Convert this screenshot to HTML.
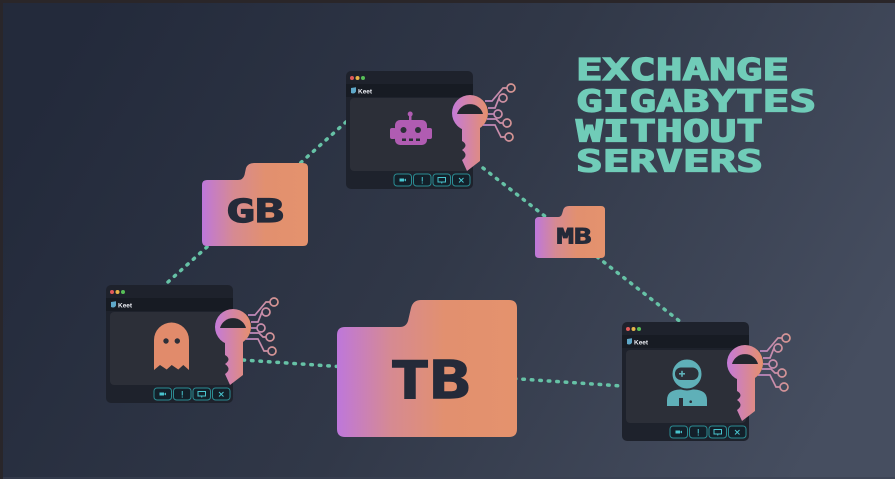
<!DOCTYPE html>
<html><head><meta charset="utf-8"><style>
html,body{margin:0;padding:0;background:#2a2629;}
body{width:895px;height:479px;overflow:hidden;}
svg{display:block;}
text{font-family:"DejaVu Sans Mono","Liberation Mono",monospace;font-weight:bold;}
.lbl{font-family:"Liberation Sans","DejaVu Sans",sans-serif;font-weight:bold;}
</style></head><body>
<svg width="895" height="479" viewBox="0 0 895 479" xmlns="http://www.w3.org/2000/svg">
<defs>
<linearGradient id="bg" x1="0" y1="0.35" x2="1" y2="0.65">
<stop offset="0" stop-color="#232a3b"/><stop offset="0.5" stop-color="#313848"/><stop offset="1" stop-color="#464e60"/>
</linearGradient>
<linearGradient id="fold" x1="0" y1="0" x2="1" y2="0">
<stop offset="0" stop-color="#be77db"/><stop offset="0.3" stop-color="#d68a92"/><stop offset="0.6" stop-color="#e2906f"/><stop offset="1" stop-color="#e4926d"/>
</linearGradient>
<linearGradient id="key" gradientUnits="userSpaceOnUse" x1="-18" y1="0" x2="18" y2="0">
<stop offset="0" stop-color="#c47ad9"/><stop offset="1" stop-color="#e6906c"/>
</linearGradient>
<linearGradient id="wire" gradientUnits="userSpaceOnUse" x1="12" y1="0" x2="45" y2="0">
<stop offset="0" stop-color="#b884c9"/><stop offset="1" stop-color="#d9968e"/>
</linearGradient>
</defs>
<rect x="0" y="0" width="895" height="479" fill="url(#bg)"/>
<rect x="0" y="0" width="895" height="3" fill="#2a2629"/>
<rect x="0" y="0" width="3" height="479" fill="#29262a"/>
<rect x="3" y="477" width="892" height="2" fill="#3a4152" opacity="0.6"/>

<!-- dotted connectors -->
<g stroke="#66c2a6" stroke-width="3.5" stroke-linecap="round" stroke-dasharray="1.5 7" fill="none">
<line x1="168" y1="282" x2="346" y2="122"/>
<line x1="483" y1="168" x2="682" y2="323"/>
<line x1="243" y1="360" x2="622" y2="386"/>
</g>

<!-- title -->
<g fill="#70ccb8" stroke="#70ccb8" stroke-width="1.3" font-size="30">
<text x="576" y="80" textLength="213" lengthAdjust="spacingAndGlyphs">EXCHANGE</text>
<text x="576" y="111.5" textLength="240" lengthAdjust="spacingAndGlyphs">GIGABYTES</text>
<text x="576" y="141.5" textLength="187" lengthAdjust="spacingAndGlyphs">WITHOUT</text>
<text x="576" y="171.5" textLength="187" lengthAdjust="spacingAndGlyphs">SERVERS</text>
</g>

<!-- folders -->
<path d="M207,180 L238,180 Q243,180 244.5,175 L246,168 Q248,163 254,163 L303,163 Q308,163 308,168 L308,241 Q308,246 303,246 L207,246 Q202,246 202,241 L202,185 Q202,180 207,180 Z" fill="url(#fold)"/>
<text x="255" y="222" font-size="32" fill="#252a39" stroke="#252a39" stroke-width="1.2" text-anchor="middle" textLength="58" lengthAdjust="spacingAndGlyphs">GB</text>

<path d="M345,327 L400,327 Q406,327 408,321 L411,308 Q413,300 421,300 L509,300 Q517,300 517,308 L517,429 Q517,437 509,437 L345,437 Q337,437 337,429 L337,335 Q337,327 345,327 Z" fill="url(#fold)"/>
<text x="430" y="398" font-size="52" fill="#252a39" stroke="#252a39" stroke-width="1.5" text-anchor="middle" textLength="80" lengthAdjust="spacingAndGlyphs">TB</text>

<path d="M539,217 L558,217 Q561,217 562,214 L563.5,209 Q565,206 569,206 L601,206 Q605,206 605,210 L605,254 Q605,258 601,258 L539,258 Q535,258 535,254 L535,221 Q535,217 539,217 Z" fill="url(#fold)"/>
<text x="574" y="243.5" font-size="21" fill="#252a39" stroke="#252a39" stroke-width="0.9" text-anchor="middle" textLength="35" lengthAdjust="spacingAndGlyphs">MB</text>

<!-- TOP WINDOW -->
<g transform="translate(346,71)">
<rect x="0" y="0" width="127" height="118" rx="5" fill="#1e222c"/>
<circle cx="6" cy="7" r="2" fill="#e25a5a"/><circle cx="11.5" cy="7" r="2" fill="#e6b449"/><circle cx="17" cy="7" r="2" fill="#57bf58"/>
<rect x="0" y="13" width="127" height="13" fill="#171b23"/>
<path d="M5,17 L10,16.3 L10,20.5 Q8.5,23.5 5,22 Z" fill="#5fa8c9"/>
<text class="lbl" x="12" y="22.5" font-size="6.5" fill="#e8eaf0">Keet</text>
<rect x="4" y="27" width="120" height="73" rx="4" fill="#2c2f38"/>
<g fill="#13202a" stroke="#2b8c93" stroke-width="1">
<rect x="48" y="103" width="17.5" height="12" rx="3"/><rect x="67.5" y="103" width="17.5" height="12" rx="3"/><rect x="87" y="103" width="17.5" height="12" rx="3"/><rect x="106.5" y="103" width="17.5" height="12" rx="3"/>
</g>
<g fill="#49c5cf" stroke="#49c5cf" stroke-width="1">
<rect x="53.5" y="107.5" width="4.5" height="3" stroke="none"/><path d="M58,109 L60,107.5 L60,110.5 Z" stroke="none"/>
<line x1="76.25" y1="106" x2="76.25" y2="110.5"/><circle cx="76.25" cy="112" r="0.6" stroke="none"/>
<rect x="92" y="106.5" width="7.5" height="4.5" fill="none"/><line x1="95.75" y1="111" x2="95.75" y2="112.5"/>
<line x1="113" y1="107" x2="117.5" y2="111.5"/><line x1="117.5" y1="107" x2="113" y2="111.5"/>
</g>
</g>
<!-- robot -->
<g fill="#b05cb2">
<rect x="409" y="114" width="2.5" height="7"/><circle cx="410.2" cy="114" r="2.5"/>
<rect x="395" y="120" width="32" height="25" rx="5"/>
<rect x="390" y="128" width="6" height="11" rx="2"/><rect x="426" y="128" width="6" height="11" rx="2"/>
</g>
<g fill="#2c2f38">
<circle cx="403.5" cy="130" r="3"/><circle cx="418" cy="130" r="3"/>
<rect x="402" y="138.5" width="4" height="2.5"/><rect x="409" y="138.5" width="4" height="2.5"/><rect x="416" y="138.5" width="4" height="2.5"/>
</g>

<!-- LEFT WINDOW -->
<g transform="translate(106,285)">
<rect x="0" y="0" width="127" height="118" rx="5" fill="#1e222c"/>
<circle cx="6" cy="7" r="2" fill="#e25a5a"/><circle cx="11.5" cy="7" r="2" fill="#e6b449"/><circle cx="17" cy="7" r="2" fill="#57bf58"/>
<rect x="0" y="13" width="127" height="13" fill="#171b23"/>
<path d="M5,17 L10,16.3 L10,20.5 Q8.5,23.5 5,22 Z" fill="#5fa8c9"/>
<text class="lbl" x="12" y="22.5" font-size="6.5" fill="#e8eaf0">Keet</text>
<rect x="4" y="27" width="120" height="73" rx="4" fill="#2c2f38"/>
<g fill="#13202a" stroke="#2b8c93" stroke-width="1">
<rect x="48" y="103" width="17.5" height="12" rx="3"/><rect x="67.5" y="103" width="17.5" height="12" rx="3"/><rect x="87" y="103" width="17.5" height="12" rx="3"/><rect x="106.5" y="103" width="17.5" height="12" rx="3"/>
</g>
<g fill="#49c5cf" stroke="#49c5cf" stroke-width="1">
<rect x="53.5" y="107.5" width="4.5" height="3" stroke="none"/><path d="M58,109 L60,107.5 L60,110.5 Z" stroke="none"/>
<line x1="76.25" y1="106" x2="76.25" y2="110.5"/><circle cx="76.25" cy="112" r="0.6" stroke="none"/>
<rect x="92" y="106.5" width="7.5" height="4.5" fill="none"/><line x1="95.75" y1="111" x2="95.75" y2="112.5"/>
<line x1="113" y1="107" x2="117.5" y2="111.5"/><line x1="117.5" y1="107" x2="113" y2="111.5"/>
</g>
</g>
<!-- ghost -->
<path d="M154,340 A17.5,17.5 0 0 1 189,340 L189,370 L183.3,365 L178.3,369.5 L171.7,365 L166.7,369.5 L160,365 L154,370 Z" fill="#e18b6b"/>
<circle cx="166" cy="341" r="2.7" fill="#2c2f38"/><circle cx="177.3" cy="341" r="2.7" fill="#2c2f38"/>

<!-- RIGHT WINDOW -->
<g transform="translate(622,322)">
<rect x="0" y="0" width="127" height="119" rx="5" fill="#1e222c"/>
<circle cx="6" cy="7" r="2" fill="#e25a5a"/><circle cx="11.5" cy="7" r="2" fill="#e6b449"/><circle cx="17" cy="7" r="2" fill="#57bf58"/>
<rect x="0" y="13" width="127" height="13" fill="#171b23"/>
<path d="M5,17 L10,16.3 L10,20.5 Q8.5,23.5 5,22 Z" fill="#5fa8c9"/>
<text class="lbl" x="12" y="22.5" font-size="6.5" fill="#e8eaf0">Keet</text>
<rect x="4" y="28" width="120" height="73" rx="4" fill="#2c2f38"/>
<g fill="#13202a" stroke="#2b8c93" stroke-width="1">
<rect x="48" y="104" width="17.5" height="12" rx="3"/><rect x="67.5" y="104" width="17.5" height="12" rx="3"/><rect x="87" y="104" width="17.5" height="12" rx="3"/><rect x="106.5" y="104" width="17.5" height="12" rx="3"/>
</g>
<g fill="#49c5cf" stroke="#49c5cf" stroke-width="1">
<rect x="53.5" y="108.5" width="4.5" height="3" stroke="none"/><path d="M58,110 L60,108.5 L60,111.5 Z" stroke="none"/>
<line x1="76.25" y1="107" x2="76.25" y2="111.5"/><circle cx="76.25" cy="113" r="0.6" stroke="none"/>
<rect x="92" y="107.5" width="7.5" height="4.5" fill="none"/><line x1="95.75" y1="112" x2="95.75" y2="113.5"/>
<line x1="113" y1="108" x2="117.5" y2="112.5"/><line x1="117.5" y1="108" x2="113" y2="112.5"/>
</g>
</g>
<!-- astronaut -->
<g fill="#5fb0b8">
<path d="M667,406 L667,400 Q667,390 680,389.5 L694,389.5 Q707,390 707,400 L707,406 Z"/>
<circle cx="687" cy="374" r="15.5" stroke="#2c2f38" stroke-width="2"/>
</g>
<rect x="675" y="367.5" width="23.5" height="12.5" rx="6" fill="#2c2f38"/>
<g stroke="#5fb0b8" stroke-width="1.6">
<line x1="679" y1="373.8" x2="685" y2="373.8"/><line x1="682" y1="370.8" x2="682" y2="376.8"/>
</g>
<rect x="679" y="398" width="4" height="8" fill="#2c2f38"/>
<circle cx="690.7" cy="401.7" r="1.3" fill="#2c2f38"/>

<!-- KEYS -->
<g transform="translate(470,113)">
<g fill="none" stroke="url(#wire)" stroke-width="1.7">
<polyline points="15,-12 22,-12 33,-25 37,-25"/>
<polyline points="18,-5 25,-5 29,-15"/>
<polyline points="18,1 24,1"/>
<polyline points="17,6 26,6 30,10 33,10"/>
<polyline points="13,12 25,12 31,24 35,24"/>
<circle cx="41" cy="-25" r="4"/><circle cx="33" cy="-15" r="4"/><circle cx="28" cy="1" r="4"/><circle cx="37" cy="10" r="4"/><circle cx="39" cy="24" r="4"/>
</g>
<circle cx="0" cy="0" r="18" fill="url(#key)"/>
<path d="M-8,12 L-8,28 Q-1,32 -8,37 Q-1,42 -8,47 L-3,58 L10,48 L10,12 Z" fill="url(#key)"/>
<path d="M-13,1 A13.5,13.5 0 0 1 13,1 Z" fill="#23272f"/>
</g>
<g transform="translate(233,327)">
<g fill="none" stroke="url(#wire)" stroke-width="1.7">
<polyline points="15,-12 22,-12 33,-25 37,-25"/>
<polyline points="18,-5 25,-5 29,-15"/>
<polyline points="18,1 24,1"/>
<polyline points="17,6 26,6 30,10 33,10"/>
<polyline points="13,12 25,12 31,24 35,24"/>
<circle cx="41" cy="-25" r="4"/><circle cx="33" cy="-15" r="4"/><circle cx="28" cy="1" r="4"/><circle cx="37" cy="10" r="4"/><circle cx="39" cy="24" r="4"/>
</g>
<circle cx="0" cy="0" r="18" fill="url(#key)"/>
<path d="M-8,12 L-8,28 Q-1,32 -8,37 Q-1,42 -8,47 L-3,58 L10,48 L10,12 Z" fill="url(#key)"/>
<path d="M-13,1 A13.5,13.5 0 0 1 13,1 Z" fill="#23272f"/>
</g>
<g transform="translate(745,363)">
<g fill="none" stroke="url(#wire)" stroke-width="1.7">
<polyline points="15,-12 22,-12 33,-25 37,-25"/>
<polyline points="18,-5 25,-5 29,-15"/>
<polyline points="18,1 24,1"/>
<polyline points="17,6 26,6 30,10 33,10"/>
<polyline points="13,12 25,12 31,24 35,24"/>
<circle cx="41" cy="-25" r="4"/><circle cx="33" cy="-15" r="4"/><circle cx="28" cy="1" r="4"/><circle cx="37" cy="10" r="4"/><circle cx="39" cy="24" r="4"/>
</g>
<circle cx="0" cy="0" r="18" fill="url(#key)"/>
<path d="M-8,12 L-8,28 Q-1,32 -8,37 Q-1,42 -8,47 L-3,58 L10,48 L10,12 Z" fill="url(#key)"/>
<path d="M-13,1 A13.5,13.5 0 0 1 13,1 Z" fill="#23272f"/>
</g>
</svg>
</body></html>
